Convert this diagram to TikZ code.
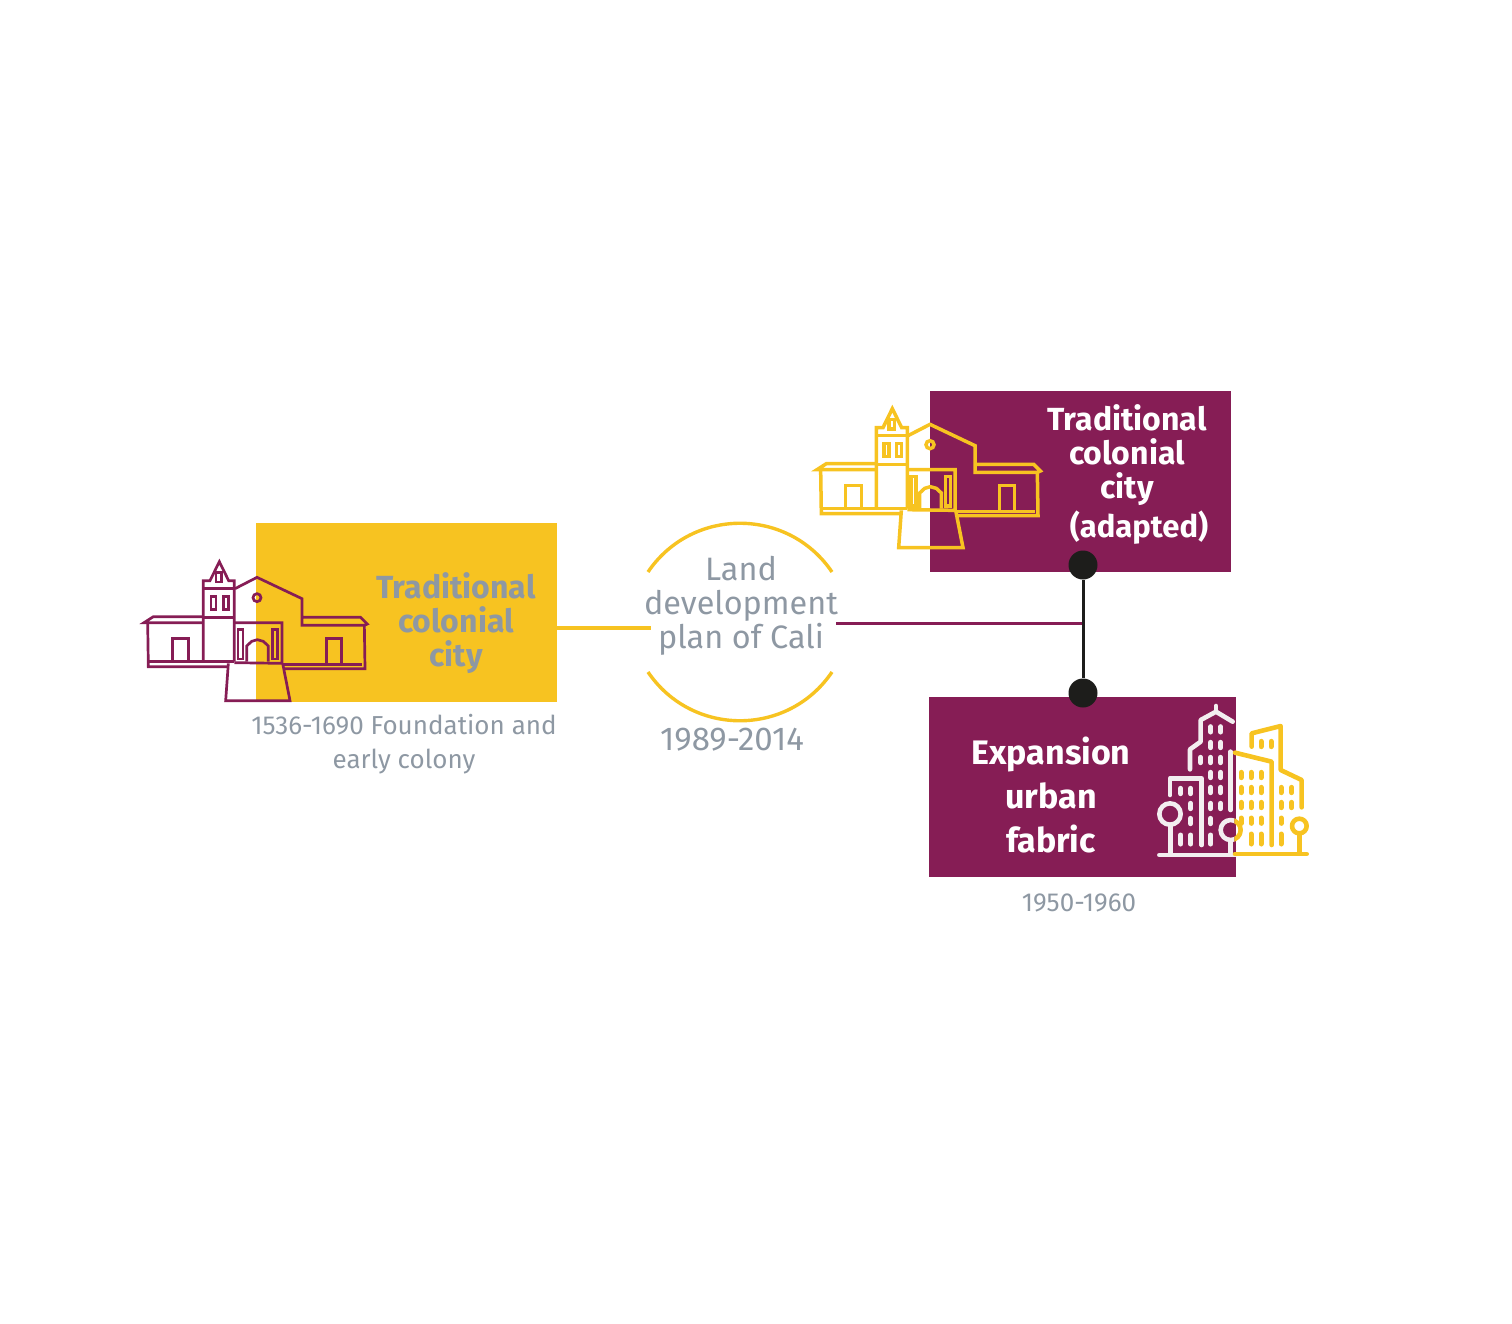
\documentclass[tikz,border=0pt]{standalone}
\usepackage{fontspec}
\setmainfont{Fira Sans}
\definecolor{gold}{HTML}{F7C321}
\definecolor{plum}{HTML}{861D55}
\definecolor{slate}{HTML}{8E98A3}
\definecolor{ink}{HTML}{1D1D1B}
\definecolor{snow}{HTML}{F3EEF0}
\newcommand{\pxfont}[2]{\fontsize{#1}{#2}\selectfont}
\newcommand{\churchicon}[4]{%
\begin{scope}[shift={(#1,#2)},x=0.16667pt,y=-0.16667pt,draw=#3,line width=#4,line join=miter]
 % tower and spire
 \draw (220,455)--(220,212)--(240,212)--(268,155)--(296,212)--(313,212)--(313,455);
 \draw (220,235)--(313,235) (220,322)--(313,322);
 \draw (258,188) rectangle (274,216);
 \draw (243,259) rectangle (258,298) (280,259) rectangle (295,298);
 % left wing
 \draw (218,320)--(70,320)--(42,338)--(218,338);
 \draw (53,338)--(55,470)--(295,470);
 \draw (55,455)--(313,455);
 \draw (128,455)--(128,386)--(176,386)--(176,455);
 % nave and right wing
 \draw (315,236)--(381,202)--(516,266)--(516,346)--(703,346)--(712,342)--(692,322)--(516,322);
 \draw (703,346)--(705,476)--(460,476);
 \draw (460,464)--(697,464);
 \draw (590,464)--(590,386)--(635,386)--(635,464);
 \draw (381,263) circle[radius=12];
 % portal
 \draw (313,338)--(456,338)--(456,460)--(313,458);
 \draw (324,358) rectangle (339,447) (427,358) rectangle (442,447);
 \draw (350,455)--(350,408)--(365,394)--(382,389)--(400,394)--(415,408)--(415,455);
 % stair
 \draw (295,460)--(287,572)--(480,572)--(458,460);
\end{scope}}
\tikzset{
 block/.style={draw=none,inner sep=0pt,minimum width=0pt},
 boldlabel/.style={inner sep=0pt,align=center,font=\bfseries\pxfont{16}{17}},
 greylabel/.style={inner sep=0pt,align=center,text=slate},
 hub/.style={circle,fill=ink,inner sep=0pt,minimum size=14.5pt},
 win/.style={line width=2.5pt,line cap=round},
 stroke/.style={line width=2.3pt,line cap=round,line join=round},
}
\begin{document}
\begin{tikzpicture}[x=0.5pt,y=-0.5pt]
\useasboundingbox (0,0) rectangle (1512,1324);
% boxes
\fill[gold] (256,523) rectangle (557,702);
\fill[plum] (930,391) rectangle (1231,572);
\fill[plum] (929,697) rectangle (1236,877);
% church icons
\churchicon{130}{510}{plum}{1.35pt}
\churchicon{803}{357}{gold}{1.75pt}
% labels
\node[boldlabel,text=slate] (old) at (456,623) {Traditional\\colonial\\city};
\node[boldlabel,text=white] (adapted) at (1127,455) {Traditional\\colonial\\city};
\node[boldlabel,text=white,font=\bfseries\pxfont{15.5}{17}] (adaptednote) at (1139,528) {(adapted)};
\node[boldlabel,text=white,font=\bfseries\pxfont{17}{22}] (exp) at (1051,795) {Expansion\\urban\\fabric};
\node[greylabel,font=\pxfont{13}{17}] (early) at (404,744) {1536-1690 Foundation and\\early colony};
\node[greylabel,font=\pxfont{16.2}{17}] (plan) at (741,606) {Land\\development\\plan of Cali};
\node[greylabel,font=\pxfont{16.5}{17}] (years) at (732,740) {1989-2014};
\node[greylabel,font=\pxfont{13}{15}] (fifties) at (1079,903) {1950-1960};
% ring arcs
\draw[gold,line width=1.7pt] (648,572) .. controls (692,507) and (788,507) .. (832,572);
\draw[gold,line width=1.7pt] (648,672) .. controls (692,737) and (788,737) .. (832,672);
% connectors
\node[hub] (hubtop) at (1083,565) {};
\node[hub] (hubbot) at (1083,693) {};
\coordinate (oldout) at (557,628);
\coordinate (ringin) at (651,628);
\coordinate (ringout) at (836,623);
\coordinate (tee) at (1083,623);
\draw[gold,line width=2pt] (oldout) -- (ringin);
\draw[plum,line width=1.5pt] (ringout) -- (tee);
\draw[ink,line width=1.5pt] (hubtop) -- (hubbot);
% buildings icon
\begin{scope}[shift={(1140,690)},x=0.16667pt,y=-0.16667pt]
 \begin{scope}[draw=snow]
  \draw[stroke] (58,495)--(285,495);
  \draw[stroke] (150,238)--(150,178)--(182,155)--(182,90)--(228,65)--(278,95);
  \draw[stroke] (228,65)--(228,48);
  \draw[stroke] (272,185)--(272,360);
  \draw[stroke] (90,315)--(90,265)--(185,265)--(185,465);
  \draw[stroke] (92,405)--(92,490);
  \draw[stroke] (90,372) circle[radius=32];
  \draw[stroke] (272,452)--(272,490);
  \begin{scope}
   \clip (200,370) rectangle (283,470);
   \draw[stroke] (272,420) circle[radius=30];
  \end{scope}
  \foreach \xx/\ys in {212/{118,165,210,255,300,348,393},242/{118,165,210,255,300,348},182/{210},122/{303},152/{303,348,393}}
   \foreach \yy in \ys \draw[win] (\xx,\yy-8)--(\xx,\yy+8);
  \foreach \xx in {122,152,212} \draw[win] (\xx,435)--(\xx,462);
 \end{scope}
 \begin{scope}[draw=gold]
  \draw[stroke] (285,492)--(500,492);
  \draw[stroke] (285,188)--(395,215)--(395,465);
  \draw[stroke] (335,170)--(335,130)--(422,108)--(422,240)--(485,270)--(485,352);
  \draw[stroke] (478,408) circle[radius=22];
  \draw[stroke] (478,430)--(478,490);
  \begin{scope}
   \clip (283,370) rectangle (320,470);
   \draw[stroke] (272,420) circle[radius=30];
  \end{scope}
  \foreach \xx/\ys in {303/{255,300,345,392},333/{255,300,345,392},363/{255,300,345,392,162},393/{162},423/{300,345,392},455/{300,345}}
   \foreach \yy in \ys \draw[win] (\xx,\yy-8)--(\xx,\yy+8);
  \foreach \xx in {333,363,423} \draw[win] (\xx,432)--(\xx,462);
 \end{scope}
\end{scope}
\end{tikzpicture}
\end{document}
